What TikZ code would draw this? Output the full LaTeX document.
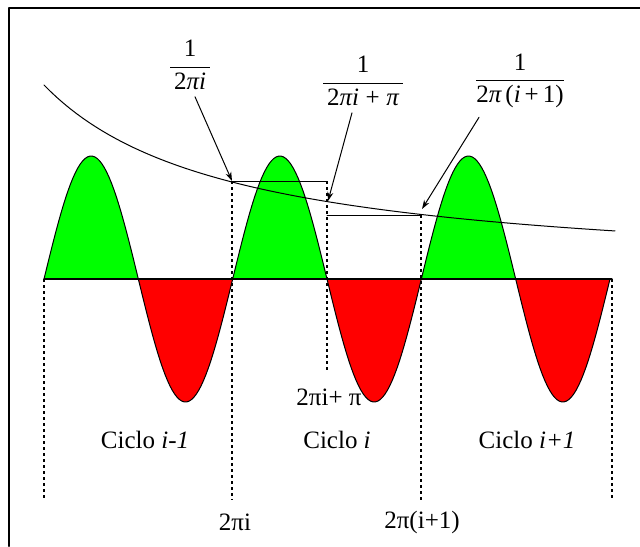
\documentclass[tikz,border=0pt]{standalone}
\usepackage{amsmath}
\usepackage{fontspec}
\setmainfont{Liberation Serif}
\usepackage{tikz}
\usetikzlibrary{arrows.meta}
\tikzset{
  every picture/.style={line join=round, line cap=round, >={Stealth[length=4.5pt,width=3pt]}},
  lobe/.style={draw=black, line width=0.5pt},
  guide/.style={dash pattern=on 1.5pt off 1.5pt, line width=0.65pt, line cap=butt},
  thinline/.style={line width=0.5pt},
}
\definecolor{lobegreen}{RGB}{0,255,0}
\definecolor{lobered}{RGB}{255,0,0}

\begin{document}
\begin{tikzpicture}[x=0.5pt,y=-0.5pt,font=\fontsize{12.5}{15}\selectfont]
\useasboundingbox (0,0) rectangle (640,546);
% frame
\draw[line width=1pt](9,546)--(9,8)--(640,8);
% half waves
\foreach \s in {44,232.67,421.33}{
  \filldraw[lobe,fill=lobegreen] plot[domain=0:94.33,samples=40]({\s+\x},{279-123*sin(\x/94.33*180)}) -- cycle;
  \filldraw[lobe,fill=lobered] plot[domain=94.33:188.67,samples=40]({\s+\x},{279-123*sin(\x/94.33*180)}) -- cycle;
}
\draw[line width=0.6pt](44,279)--(612,279);
% 1/x curve
\draw[thinline] plot[domain=44:615,samples=90](\x,{279-364.72/((\x+144)/100)});
% steps and guides
\coordinate (hA) at (232,181);
\coordinate (hB) at (327,181);
\coordinate (hC) at (327,215);
\coordinate (hD) at (421,215);
\coordinate (cB) at (328,201);
\coordinate (cD) at (422,209);
\draw[thinline](hA)--(hB);
\draw[thinline](hC)--(hD);
\draw[guide](44,279)--(44,500);
\draw[guide](hA)--(232,500);
\draw[guide](hB)--(327,373);
\draw[guide](hD)--(421,500);
\draw[guide](612,279)--(612,500);
% labels
\node (fracA) at (190,65) {$\dfrac{\text{1}}{\,\text{2}\textit{π}\textit{i}\,}$};
\node (fracB) at (363,81) {$\dfrac{\text{1}}{\,\text{2}\textit{π}\textit{i}\;\text{+}\;\textit{π}\,}$};
\node (fracC) at (520,81) {$\dfrac{\text{1}}{\text{2}\textit{π}\,\text{(}\textit{i}\,\text{+}\,\text{1)}}$};
\draw[->,thinline]([xshift=2.5pt]fracA.south)--(hA);
\draw[->,thinline]([xshift=-5.5pt]fracB.south)--(cB);
\draw[->,thinline]([xshift=-20.5pt,yshift=-1pt]fracC.south)--(cD);
\node (tpi) at (329,397) {2πi+ π};
\node (cyA) at (145,440) {Ciclo \textit{i-1}};
\node (cyB) at (337,440) {Ciclo \textit{i}};
\node (cyC) at (527,440) {Ciclo \textit{i+1}};
\node (tA) at (235,522) {2πi};
\node (tB) at (422,522) {2π(i+1)};
\end{tikzpicture}
\end{document}
